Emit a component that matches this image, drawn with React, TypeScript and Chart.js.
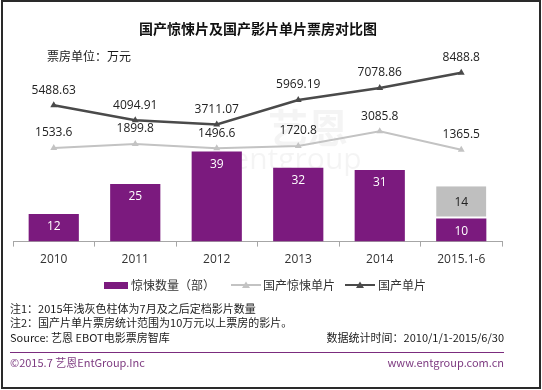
import React, { useEffect, useRef } from "react";
import { Chart, registerables } from "chart.js";

Chart.register(...registerables);

const categories = ["2010", "2011", "2012", "2013", "2014", "2015.1-6"];
const thrillerCount = [12, 25, 39, 32, 31, 10];
const thrillerScheduled = [null, null, null, null, null, 14];
const thrillerAvgBoxOffice = [1533.6, 1899.8, 1496.6, 1720.8, 3085.8, 1365.5];
const domesticAvgBoxOffice = [5488.63, 4094.91, 3711.07, 5969.19, 7078.86, 8488.8];

const legendLabels = ["惊悚数量（部）", "国产惊悚单片", "国产单片"];

const FONT = "'Noto Sans CJK SC', 'Open Sans', sans-serif";
const NUM_FONT = "'Open Sans', 'Noto Sans CJK SC', sans-serif";

const PURPLE = "#7b1a7e";
const GRAY_BAR = "#bfbfbf";
const DARK_LINE = "#4a4a4a";
const LIGHT_LINE = "#c3c3c3";

const watermarkPlugin = {
  id: "watermark",
  beforeDatasetsDraw(chart: any) {
    const ctx = chart.ctx;
    ctx.save();
    ctx.fillStyle = "rgba(0,0,0,0.045)";
    ctx.textAlign = "center";
    ctx.textBaseline = "middle";
    ctx.font = "bold 40px " + FONT;
    ctx.fillText("艺恩", 308, 128);
    ctx.font = "30px " + NUM_FONT;
    ctx.fillText("entgroup", 297, 160);
    ctx.restore();
  },
};

const labelPlugin = {
  id: "valueLabels",
  afterDatasetsDraw(chart: any) {
    const ctx = chart.ctx;
    ctx.save();
    ctx.textAlign = "center";
    ctx.textBaseline = "middle";
    chart.data.datasets.forEach((ds: any, di: number) => {
      const meta = chart.getDatasetMeta(di);
      meta.data.forEach((el: any, i: number) => {
        const v = ds.data[i];
        if (v === null || v === undefined) return;
        const text = String(v);
        ctx.font = "12px " + NUM_FONT;
        if (ds.type === "line") {
          ctx.fillStyle = "#222";
          ctx.fillText(text, el.x, el.y - 15);
        } else if (di === 2) {
          ctx.fillStyle = "#ffffff";
          ctx.fillText(text, el.x, el.y + 13);
        } else {
          ctx.fillStyle = "#222";
          ctx.fillText(text, el.x, (el.y + el.base) / 2);
        }
      });
    });
    ctx.restore();
  },
};

function LineIcon({ color }: { color: string }) {
  return (
    <svg width="30" height="10" style={{ display: "block" }}>
      <line x1="0" y1="5" x2="30" y2="5" stroke={color} strokeWidth="2" />
      <polygon points="15,1.5 19,8 11,8" fill={color} />
    </svg>
  );
}

export default function App() {
  const canvasRef = useRef<HTMLCanvasElement | null>(null);

  useEffect(() => {
    if (!canvasRef.current) return;
    const chart = new Chart(canvasRef.current, {
      type: "bar",
      data: {
        labels: categories,
        datasets: [
          {
            type: "line",
            label: legendLabels[2],
            data: domesticAvgBoxOffice,
            yAxisID: "yLine",
            borderColor: DARK_LINE,
            backgroundColor: DARK_LINE,
            borderWidth: 2.5,
            pointStyle: "triangle",
            pointRadius: 4,
            pointBorderWidth: 0,
            tension: 0,
            order: 0,
          },
          {
            type: "line",
            label: legendLabels[1],
            data: thrillerAvgBoxOffice,
            yAxisID: "yLine",
            borderColor: LIGHT_LINE,
            backgroundColor: LIGHT_LINE,
            borderWidth: 2,
            pointStyle: "triangle",
            pointRadius: 4,
            pointBorderWidth: 0,
            tension: 0,
            order: 0,
          },
          {
            type: "bar",
            label: legendLabels[0],
            data: thrillerCount,
            yAxisID: "yBar",
            backgroundColor: PURPLE,
            stack: "s",
            order: 1,
            categoryPercentage: 0.8,
            barPercentage: 0.77,
          },
          {
            type: "bar",
            label: "7月及之后定档",
            data: thrillerScheduled,
            yAxisID: "yBar",
            backgroundColor: GRAY_BAR,
            borderColor: "#ffffff",
            borderWidth: { top: 0, left: 0, right: 0, bottom: 2 },
            borderSkipped: false,
            stack: "s",
            order: 1,
            categoryPercentage: 0.8,
            barPercentage: 0.77,
          },
        ] as any,
      },
      options: {
        responsive: false,
        animation: false,
        devicePixelRatio: 1,
        layout: { padding: { left: 13, right: 40, top: 45, bottom: 117 } },
        plugins: {
          legend: { display: false },
          title: { display: false },
          tooltip: { enabled: false },
        },
        scales: {
          x: {
            stacked: true,
            grid: {
              display: true,
              drawOnChartArea: false,
              drawTicks: true,
              tickLength: 5,
              color: "#a6a6a6",
              offset: true,
            },
            border: { color: "#a6a6a6", width: 1 },
            ticks: {
              color: "#333",
              padding: 6,
              font: { size: 12, family: NUM_FONT },
            },
          },
          yBar: {
            display: false,
            stacked: true,
            position: "left",
            min: 0,
            max: 85.2,
          },
          yLine: {
            display: false,
            position: "right",
            min: -7130,
            max: 11057,
          },
        },
      } as any,
      plugins: [watermarkPlugin, labelPlugin],
    });
    return () => chart.destroy();
  }, []);

  const textBase: React.CSSProperties = {
    position: "absolute",
    fontFamily: FONT,
    whiteSpace: "nowrap",
    color: "#1a1a1a",
  };

  return (
    <div
      style={{
        position: "absolute",
        left: 0,
        top: 0,
        width: 542,
        height: 390,
        background: "#ffffff",
        overflow: "hidden",
      }}
    >
      <canvas
        ref={canvasRef}
        width={542}
        height={390}
        style={{ position: "absolute", left: 0, top: 0, width: 542, height: 390 }}
      />
      <div
        style={{
          ...textBase,
          left: 0,
          width: 516,
          top: 20,
          lineHeight: "16px",
          textAlign: "center",
          fontSize: 14,
          fontWeight: "bold",
          color: "#111",
        }}
      >
        国产惊悚片及国产影片单片票房对比图
      </div>
      <div style={{ ...textBase, left: 47, top: 48, lineHeight: "16px", fontSize: 12 }}>
        票房单位：万元
      </div>

      {/* legend */}
      <div style={{ position: "absolute", left: 104, top: 282, width: 24, height: 7, background: PURPLE }} />
      <div style={{ ...textBase, left: 131, top: 277, lineHeight: "16px", fontSize: 12, color: "#333" }}>
        {legendLabels[0]}
      </div>
      <div style={{ position: "absolute", left: 231, top: 280 }}>
        <LineIcon color={LIGHT_LINE} />
      </div>
      <div style={{ ...textBase, left: 263, top: 277, lineHeight: "16px", fontSize: 12, color: "#333" }}>
        {legendLabels[1]}
      </div>
      <div style={{ position: "absolute", left: 345, top: 280 }}>
        <LineIcon color={DARK_LINE} />
      </div>
      <div style={{ ...textBase, left: 378, top: 277, lineHeight: "16px", fontSize: 12, color: "#333" }}>
        {legendLabels[2]}
      </div>

      {/* notes */}
      <div style={{ ...textBase, left: 10, top: 300, lineHeight: "16px", fontSize: 11 }}>
        注1：2015年浅灰色柱体为7月及之后定档影片数量
      </div>
      <div style={{ ...textBase, left: 10, top: 314, lineHeight: "16px", fontSize: 11 }}>
        注2：国产片单片票房统计范围为10万元以上票房的影片。
      </div>
      <div style={{ ...textBase, left: 10, top: 329, lineHeight: "16px", fontSize: 11 }}>
        Source: 艺恩 EBOT电影票房智库
      </div>
      <div style={{ ...textBase, right: 38, top: 329, lineHeight: "16px", fontSize: 11 }}>
        数据统计时间：2010/1/1-2015/6/30
      </div>
      <div style={{ position: "absolute", left: 10, top: 352, width: 494, height: 1, background: "#7b2c7e" }} />
      <div style={{ ...textBase, left: 10, top: 354, lineHeight: "16px", fontSize: 11, color: "#7d3a80" }}>
        ©2015.7 艺恩EntGroup.Inc
      </div>
      <div style={{ ...textBase, right: 38, top: 354, lineHeight: "16px", fontSize: 11, color: "#7d3a80" }}>
        www.entgroup.com.cn
      </div>

      {/* frame */}
      <div
        style={{
          position: "absolute",
          left: 1,
          top: 0,
          width: 540,
          height: 389,
          boxSizing: "border-box",
          border: "2px solid #2a2a2a",
          pointerEvents: "none",
        }}
      />
    </div>
  );
}
